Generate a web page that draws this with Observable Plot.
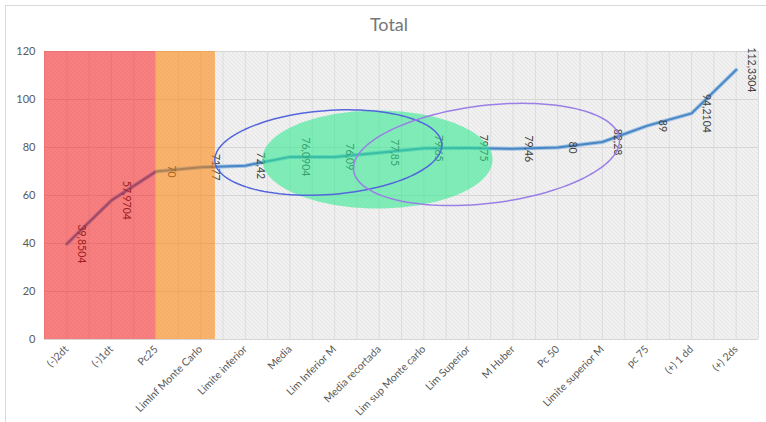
<!DOCTYPE html>
<html><head><meta charset="utf-8">
<script src="https://cdn.jsdelivr.net/npm/d3@7"></script>
<script src="https://cdn.jsdelivr.net/npm/@observablehq/plot@0.6"></script>
<style>
body{margin:0;background:#fff;font-family:Lato,sans-serif;}
#wrap{position:relative;width:766px;height:422px;overflow:hidden;}
#frame{position:absolute;left:5px;top:5px;width:800px;height:500px;border-left:1px solid #d9d9d9;border-top:1px solid #d9d9d9;}
#title{position:absolute;left:0;top:13px;width:778px;text-align:center;font-size:18px;color:#767676;}
#chart{position:absolute;left:0;top:0;}
</style></head><body>
<div id="wrap"><div id="frame"></div><div id="chart"></div><div id="title">Total</div></div>
<script>
const categories = ["(-)2dt","(-)1dt","Pc25","LimInf Monte Carlo","Limite inferior","Media","Lim Inferior M","Media recortada","Lim sup Monte carlo","Lim Superior","M Huber","Pc 50","Limite superior M","pc 75","(+) 1 dd","(+) 2ds"];
const values = [39.8504, 57.9704, 70, 71.77, 72.42, 76.0904, 76.09, 77.85, 79.65, 79.75, 79.46, 80, 82.28, 89, 94.2104, 112.3304];
const yTicks = [0, 20, 40, 60, 80, 100, 120];

// shaded zones (category-index units)
const zoneStart = [-0.5, 2.0];
const zoneEnd = [2.0, 3.33];
const zoneColor = ["#ff0000", "#ff8000"];
const zoneOpacity = [0.47, 0.55];

// annotation ellipses: centre (category index, value), radii (index units, value units), tilt (deg)
const ellCx = [6.96, 5.86, 9.405];
const ellCy = [75, 77.9, 77.1];
const ellRx = [2.58, 2.55, 3.0];
const ellRy = [20.4, 17.5, 20.4];
const ellTilt = [0, 4.3, 6.8];

const W = 766, H = 422, ML = 44, MR = 8, MT = 51, MB = 83;
const kx = (W - ML - MR) / 16, ky = (H - MT - MB) / 120;

function ellipse(k) {
  const pts = [];
  const th = ellTilt[k] * Math.PI / 180;
  const a = ellRx[k] * kx, b = ellRy[k] * ky;
  for (let s = 0; s <= 120; s++) {
    const t = s / 120 * 2 * Math.PI;
    const u = a * Math.cos(t), v = b * Math.sin(t);
    const X = u * Math.cos(th) - v * Math.sin(th);
    const Y = u * Math.sin(th) + v * Math.cos(th);
    pts.push({x: ellCx[k] + X / kx, y: ellCy[k] + Y / ky});
  }
  return pts;
}

const points = values.map((v, i) => ({i, v, label: String(v).replace(".", ",")}));
const zones = zoneStart.map((s, k) => ({x1: s, x2: zoneEnd[k], y1: yTicks[0], y2: yTicks[yTicks.length - 1], fill: zoneColor[k], op: zoneOpacity[k]}));
const xIdx = categories.map((_, i) => i);
const gridXs = d3.range(-0.5, 15.51, 0.5);

const plot = Plot.plot({
  width: W, height: H,
  marginLeft: ML, marginRight: MR, marginTop: MT, marginBottom: MB,
  style: {fontFamily: "Lato, sans-serif", background: "transparent"},
  x: {type: "linear", domain: [-0.5, 15.5]},
  y: {domain: [0, 120]},
  marks: [
    Plot.frame({fill: "url(#hatch)", stroke: null}),
    Plot.ruleX(gridXs, {x: d => d, stroke: "#dcdcdc", strokeWidth: 1}),
    Plot.ruleY(yTicks, {y: d => d, stroke: "#d6d6d6", strokeWidth: 1}),
    Plot.line(points, {x: "i", y: "v", stroke: "#9ec2e6", strokeWidth: 4}),
    Plot.line(points, {x: "i", y: "v", stroke: "#4a86c2", strokeWidth: 2}),
    Plot.text(points, {x: "i", y: "v", text: "label", rotate: 90, dx: 15, fontSize: 10.5, fill: "#404040", textAnchor: "middle"}),
    ...zones.map(z => Plot.rect([z], {x1: "x1", x2: "x2", y1: "y1", y2: "y2", fill: z.fill, fillOpacity: z.op})),
    Plot.line(ellipse(0), {x: "x", y: "y", fill: "#2ee88f", fillOpacity: 0.58, stroke: "none"}),
    Plot.line(ellipse(1), {x: "x", y: "y", stroke: "#5466dc", strokeWidth: 1.5}),
    Plot.line(ellipse(2), {x: "x", y: "y", stroke: "#9b7fe6", strokeWidth: 1.5}),
    Plot.axisY({ticks: yTicks, tickSize: 0, tickPadding: 9, fontSize: 11, fill: "#595959", label: null}),
    Plot.axisX({ticks: xIdx, tickFormat: i => categories[i], tickRotate: -45, tickSize: 0, tickPadding: 8, fontSize: 10.5, fill: "#595959", label: null})
  ]
});

const defs = d3.select(plot).insert("defs", ":first-child");
const pat = defs.append("pattern").attr("id", "hatch").attr("patternUnits", "userSpaceOnUse").attr("width", 4).attr("height", 4);
pat.append("rect").attr("width", 4).attr("height", 4).attr("fill", "#f4f4f4");
pat.append("path").attr("d", "M-1,-1 L5,5 M-1,3 L1,5 M3,-1 L5,1").attr("stroke", "#dadada").attr("stroke-width", 1);
document.getElementById("chart").appendChild(plot);
</script>
</body></html>
